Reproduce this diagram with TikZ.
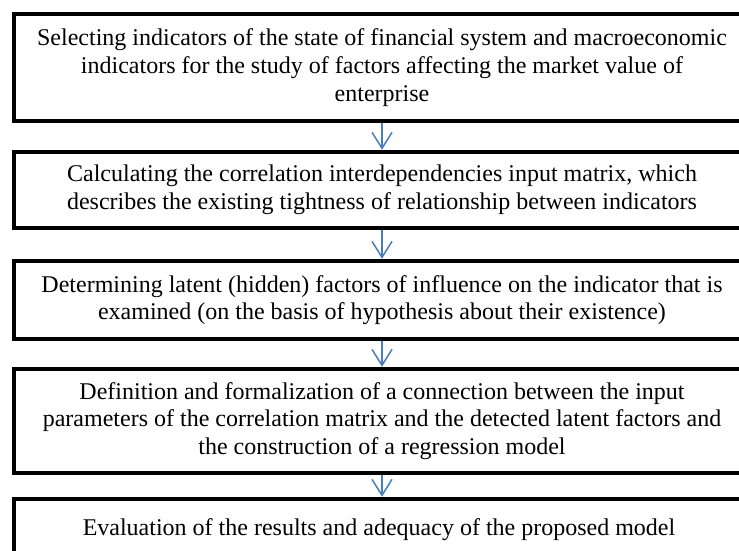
\documentclass[tikz,border=0pt]{standalone}
\usepackage{fontspec}
\setmainfont{Liberation Serif}
\usetikzlibrary{arrows.meta}

\definecolor{flowblue}{RGB}{74,126,187}

\begin{document}
\begin{tikzpicture}[x=1pt, y=-1pt,
        stage/.style={draw, rectangle, line width=4.5pt, minimum width=736pt, align=center, fill=white, inner sep=0pt, font=\fontsize{24}{27.6}\selectfont},
        arrow/.style={-{Straight Barb[length=16pt, width=20pt]}, line width=1.5pt, draw=flowblue}
    ]
        \useasboundingbox (0,0) rectangle (739,550);
        \clip (0,0) rectangle (739,550);

        \node[stage, minimum height=107pt] (sel) at (382,67.5) {
            Selecting indicators of the state of financial system and macroeconomic \\
            indicators for the study of factors affecting the market value of \\
            enterprise
        };

        \node[stage, minimum height=76pt] (calc) at (382,190) {
            Calculating the correlation interdependencies input matrix, which \\
            describes the existing tightness of relationship between indicators
        };

        \node[stage, minimum height=78pt] (lat) at (382,300) {
            Determining latent (hidden) factors of influence on the indicator that is \\
            examined (on the basis of hypothesis about their existence)
        };

        \node[stage, minimum height=104pt] (reg) at (382,421) {
            Definition and formalization of a connection between the input \\
            parameters of the correlation matrix and the detected latent factors and \\
            the construction of a regression model
        };

        \node[stage, minimum height=62pt] (eval) at (382,530) {
            Evaluation of the results and adequacy of the proposed model
        };

        \draw[arrow] (sel.south) -- (calc.north);
        \draw[arrow] (calc.south) -- (lat.north);
        \draw[arrow] (lat.south) -- (reg.north);
        \draw[arrow] (reg.south) -- (eval.north);
    \end{tikzpicture}
\end{document}
